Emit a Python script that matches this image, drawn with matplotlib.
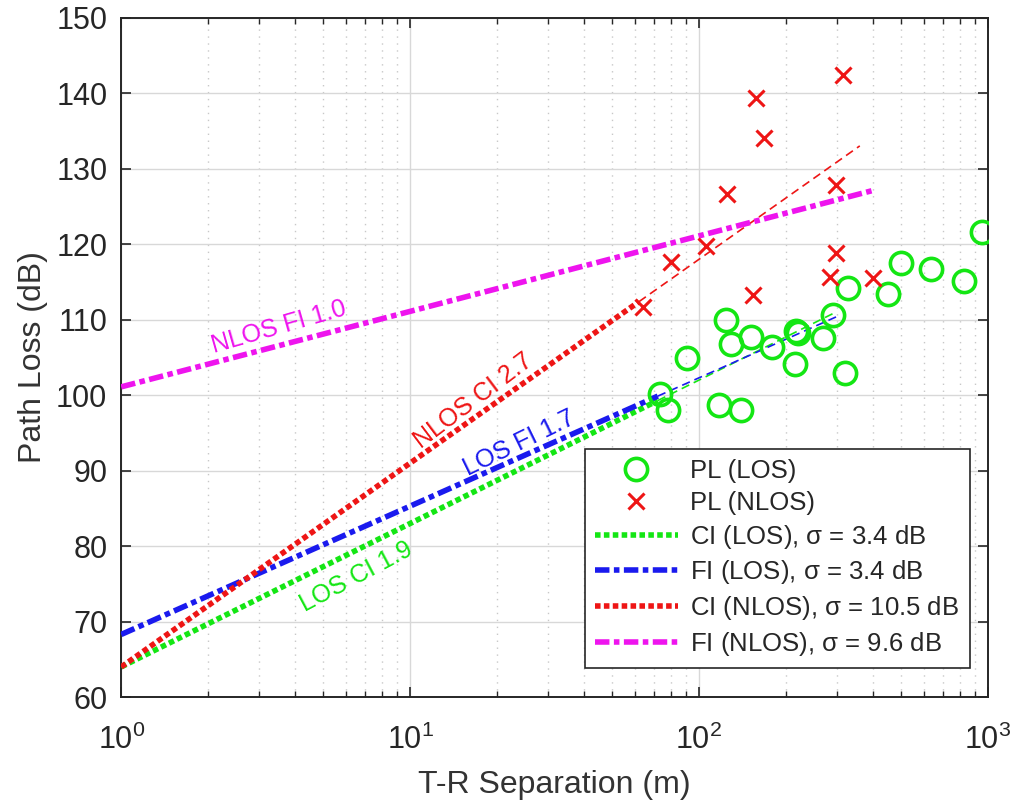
import numpy as np
import matplotlib
matplotlib.use("Agg")
import matplotlib.pyplot as plt
from matplotlib.ticker import LogLocator, NullFormatter

plt.rcParams['font.family'] = ['Liberation Sans', 'DejaVu Sans']
plt.rcParams['mathtext.default'] = 'regular'

# measured path loss (distance in m, PL in dB)
los_d = [73, 78, 91, 117, 124, 129, 140, 151, 179, 215, 217, 220, 268, 291,
         321, 327, 450, 499, 636, 826, 950]
los_pl = [100.1, 98.1, 104.9, 98.7, 109.9, 106.8, 98.1, 107.7, 106.4, 104.1, 108.5,
          108.2, 107.6, 110.6, 103.0, 114.2, 113.4, 117.5, 116.7, 115.1, 121.6]

nlos_d = [64, 80, 106, 125, 154, 158, 168, 284, 299, 299, 316, 399]
nlos_pl = [111.7, 117.6, 119.7, 126.7, 113.3, 139.3, 134.1, 115.6, 118.8, 127.9,
           142.4, 115.5]

# model parameters: intercept at 1 m and PLE
fspl_1m = 64.0
ci_los_n, ci_nlos_n = 1.9, 2.7
fi_los_a, fi_los_b = 68.3, 1.7
fi_nlos_a, fi_nlos_b = 101.1, 1.0
# dense part of each fitted curve ends at split_d, sparse tail runs to end_d
split_d = [72, 72, 62, 400]
end_d = [300, 300, 360, 400]


def model(a, n, d):
    return a + 10 * n * np.log10(d)


fig = plt.figure(figsize=(10.27, 8.05), dpi=100)
ax = fig.add_axes([0.118, 0.134, 0.844, 0.844])

green, blue, red, mag = '#14e614', '#1a1aee', '#ee1515', '#ee14ee'
dotted = (0, (1.0, 0.6))
dashdot = (0, (2.6, 0.8, 1.0, 0.8))
models = [
    ('CI (LOS), $\\sigma$ = 3.4 dB', fspl_1m, ci_los_n, green, dotted),
    ('FI (LOS), $\\sigma$ = 3.4 dB', fi_los_a, fi_los_b, blue, dashdot),
    ('CI (NLOS), $\\sigma$ = 10.5 dB', fspl_1m, ci_nlos_n, red, dotted),
    ('FI (NLOS), $\\sigma$ = 9.6 dB', fi_nlos_a, fi_nlos_b, mag, dashdot),
]

ax.plot(los_d, los_pl, 'o', mfc='none', mec=green, ms=16, mew=2.6, label='PL (LOS)', zorder=4)
ax.plot(nlos_d, nlos_pl, 'x', color=red, ms=11, mew=2.2, label='PL (NLOS)', zorder=4)

for i, (lab, a, n, c, ls) in enumerate(models):
    d = np.array([1, split_d[i]])
    ax.plot(d, model(a, n, d), color=c, lw=4, linestyle=ls, label=lab, zorder=3)
    if end_d[i] > split_d[i]:
        dt = np.array([split_d[i], end_d[i]])
        ax.plot(dt, model(a, n, dt), color=c, lw=1.2, linestyle=(0, (5, 3)), zorder=3)

# model labels next to the curves
ax.text(3.5, 109.0, 'NLOS FI 1.0', color=mag, fontsize=18, rotation=16,
        ha='center', va='center')
ax.text(16.5, 99.2, 'NLOS CI 2.7', color=red, fontsize=18, rotation=37,
        ha='center', va='center')
ax.text(23.8, 93.6, 'LOS FI 1.7', color=blue, fontsize=18, rotation=26,
        ha='center', va='center')
ax.text(6.5, 76.0, 'LOS CI 1.9', color=green, fontsize=18, rotation=28,
        ha='center', va='center')

ax.set_xscale('log')
ax.set_xlim(1, 1000)
ax.set_ylim(60, 150)
ax.set_yticks(range(60, 151, 10))
ax.xaxis.set_minor_locator(LogLocator(base=10, subs=np.arange(2, 10)))
ax.xaxis.set_minor_formatter(NullFormatter())

ax.grid(True, which='major', color='#d8d8d8', lw=1.0, ls='-')
ax.grid(True, which='minor', axis='x', color='#c8c8c8', lw=1.0, ls=(0, (1, 4)))
ax.set_axisbelow(True)

ax.tick_params(which='both', direction='in', top=True, right=True, labelsize=22,
               colors='#262626')
ax.tick_params(axis='y', pad=10)
ax.tick_params(axis='x', pad=20)
ax.tick_params(which='major', length=7, width=1.2)
ax.tick_params(which='minor', length=4, width=1.0)
for s in ax.spines.values():
    s.set_linewidth(1.4)
    s.set_color('#262626')

ax.set_xlabel('T-R Separation (m)', fontsize=23, color='#333333', labelpad=10)
ax.set_ylabel('Path Loss (dB)', fontsize=23, color='#333333', labelpad=6)

leg = ax.legend(loc='lower right', bbox_to_anchor=(0.979, 0.043), borderaxespad=0,
                fontsize=18.5, fancybox=False, framealpha=1, edgecolor='#262626',
                handlelength=3.2, handletextpad=0.5, borderpad=0.4, labelspacing=0.3)
leg.get_frame().set_linewidth(1.2)
for t in leg.get_texts():
    t.set_color('#262626')

fig.savefig('out.png', dpi=100)
